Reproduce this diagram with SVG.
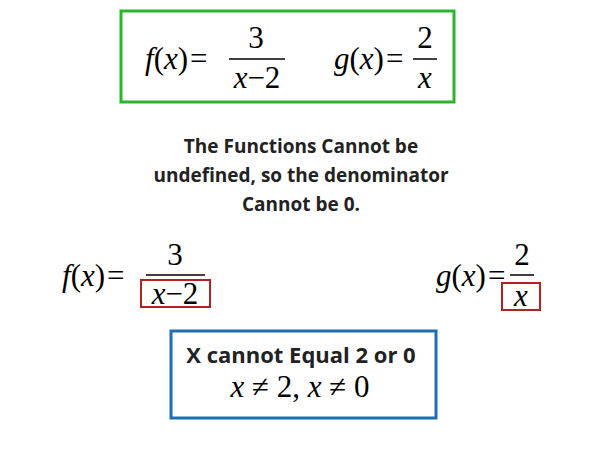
<svg xmlns="http://www.w3.org/2000/svg" width="600" height="450" viewBox="0 0 600 450">
<style>
.m{font-family:"Liberation Serif",serif;font-size:31px;fill:#000}
.i{font-style:italic}
.b{font-family:"Open Sans","Liberation Sans",sans-serif;font-weight:bold;fill:#222}
.bar{stroke:#000;stroke-width:1.5}
</style>
<rect width="600" height="450" fill="#fff"/>
<g id="top">
<rect x="121" y="11" width="333" height="91" fill="none" stroke="#2cb52c" stroke-width="3"/>
<text class="m" x="145" y="69"><tspan class="i">f</tspan>(<tspan class="i">x</tspan>)<tspan dx="2">=</tspan></text>
<text class="m" x="256" y="48" text-anchor="middle">3</text>
<line class="bar" x1="229" y1="59" x2="285" y2="59"/>
<text class="m i" x="257" y="88" text-anchor="middle">x<tspan font-style="normal">−2</tspan></text>
<text class="m" x="334" y="69"><tspan class="i">g</tspan>(<tspan class="i">x</tspan>)<tspan dx="2">=</tspan></text>
<text class="m" x="425" y="48" text-anchor="middle">2</text>
<line class="bar" x1="413" y1="59" x2="437" y2="59"/>
<text class="m i" x="425" y="88" text-anchor="middle">x</text>
</g>
<g id="note">
<text class="b" font-size="19" x="301" y="153" text-anchor="middle">The Functions Cannot be</text>
<text class="b" font-size="19" x="301" y="182" text-anchor="middle">undefined, so the denominator</text>
<text class="b" font-size="19" x="301" y="211" text-anchor="middle">Cannot be 0.</text>
</g>
<g id="f2">
<text class="m" x="62" y="286"><tspan class="i">f</tspan>(<tspan class="i">x</tspan>)<tspan dx="2">=</tspan></text>
<text class="m" x="175" y="265" text-anchor="middle">3</text>
<line class="bar" x1="146" y1="275" x2="205" y2="275"/>
<text class="m i" x="175" y="304" text-anchor="middle">x<tspan font-style="normal">−2</tspan></text>
<rect x="141" y="280" width="69" height="27" fill="none" stroke="#b22222" stroke-width="2"/>
</g>
<g id="g2">
<text class="m" x="436" y="286"><tspan class="i">g</tspan>(<tspan class="i">x</tspan>)<tspan dx="2">=</tspan></text>
<text class="m" x="522" y="265" text-anchor="middle">2</text>
<line class="bar" x1="510" y1="275" x2="534" y2="275"/>
<text class="m i" x="521" y="306" text-anchor="middle">x</text>
<rect x="502" y="283" width="38" height="27" fill="none" stroke="#b22222" stroke-width="2"/>
</g>
<g id="result">
<rect x="171" y="331" width="265" height="87" fill="none" stroke="#1f6fb0" stroke-width="3"/>
<text class="b" font-size="22" x="301" y="363" text-anchor="middle" fill="#111">X cannot Equal 2 or 0</text>
<text class="m" x="300" y="397" text-anchor="middle"><tspan class="i">x</tspan> ≠ 2, <tspan class="i">x</tspan> ≠ 0</text>
</g>
<g id="connectors"/>
</svg>
